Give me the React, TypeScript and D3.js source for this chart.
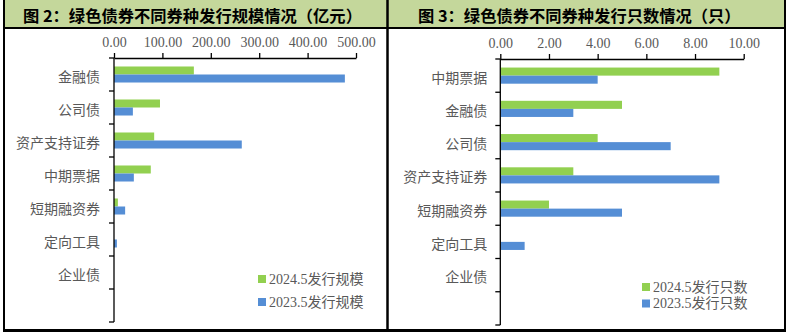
import React, { useEffect, useRef } from "react";
import * as d3 from "d3";

const leftTitle = "图 2：绿色债券不同券种发行规模情况（亿元）";
const leftCategories = ["金融债", "公司债", "资产支持证券", "中期票据", "短期融资券", "定向工具", "企业债", ""];
const leftValues2024 = [165, 95, 83, 76, 8, 0, 0];
const leftValues2023 = [477, 39, 264, 41, 23, 6, 0];
const leftTicks = [0, 100, 200, 300, 400, 500];
const leftLegend = ["2024.5发行规模", "2023.5发行规模"];

const rightTitle = "图 3：绿色债券不同券种发行只数情况（只）";
const rightCategories = ["中期票据", "金融债", "公司债", "资产支持证券", "短期融资券", "定向工具", "企业债", ""];
const rightValues2024 = [9, 5, 4, 3, 2, 0, 0];
const rightValues2023 = [4, 3, 7, 9, 5, 1, 0];
const rightTicks = [0, 2, 4, 6, 8, 10];
const rightLegend = ["2024.5发行只数", "2023.5发行只数"];

const GREEN = "#92D050";
const BLUE = "#558ED5";
const TEXT = "#595959";
const FONT = "'Liberation Serif', 'Noto Sans CJK SC', serif";
const CJK = "'Noto Sans CJK SC', sans-serif";

type PanelProps = {
  title: string;
  titleX: number;
  categories: string[];
  s1: number[];
  s2: number[];
  ticks: number[];
  legend: string[];
  x0: number;
  x1: number;
  y0: number;
  y1: number;
  labelGap: number;
  legendX: number;
  legendY: number;
  legendStep: number;
};

function Panel(p: PanelProps) {
  const axisRef = useRef<SVGGElement>(null);
  const x = d3.scaleLinear().domain([p.ticks[0], p.ticks[p.ticks.length - 1]]).range([p.x0, p.x1]);
  const y = d3.scaleBand<string>().domain(p.categories.map((c, i) => String(i))).range([p.y0, p.y1]).padding(0);
  const sub = d3.scaleBand<string>().domain(["a", "b"]).range([0, y.bandwidth()]).paddingInner(0).paddingOuter(1.06);

  useEffect(() => {
    if (!axisRef.current) return;
    const g = d3.select(axisRef.current);
    g.selectAll("*").remove();
    g.call(
      d3.axisTop(x).tickValues(p.ticks).tickFormat(d3.format(".2f")).tickSize(5).tickSizeOuter(0).tickPadding(6)
    );
    g.select(".domain").attr("stroke", "#000").attr("stroke-width", 1.3);
    g.selectAll(".tick line").attr("stroke", "#000").attr("stroke-width", 1.3);
    g.selectAll(".tick text").attr("fill", TEXT).attr("font-size", 14).attr("font-family", FONT);
  });

  const boundaries = p.categories.map((c, i) => y(String(i)) as number).concat([p.y1]);

  return (
    <g>
      <text x={p.titleX} y={22} fontSize={16.3} fontWeight="bold" fontFamily={CJK} fill="#000">
        {p.title}
      </text>
      {p.categories.map((c, i) => {
        const by = y(String(i)) as number;
        return (
          <g key={i}>
            <rect x={x(0)} y={by + (sub("a") as number)} width={x(p.s1[i] ?? 0) - x(0)} height={sub.bandwidth()} fill={GREEN} />
            <rect x={x(0)} y={by + (sub("b") as number)} width={x(p.s2[i] ?? 0) - x(0)} height={sub.bandwidth()} fill={BLUE} />
            <text
              x={x(0) - p.labelGap}
              y={by + y.bandwidth() / 2 + 1}
              textAnchor="end"
              dominantBaseline="central"
              fontSize={14}
              fontFamily={CJK}
              fill={TEXT}
            >
              {c}
            </text>
          </g>
        );
      })}
      <line x1={x(0)} x2={x(0)} y1={p.y0} y2={p.y1} stroke="#000" strokeWidth={1.3} />
      {boundaries.map((b, i) => (
        <line key={i} x1={x(0) - 5} x2={x(0)} y1={b} y2={b} stroke="#000" strokeWidth={1.3} />
      ))}
      <g ref={axisRef} transform={`translate(0,${p.y0})`} />
      {p.legend.map((l, i) => (
        <g key={l}>
          <rect x={p.legendX} y={p.legendY + i * p.legendStep - 4} width={8} height={8} fill={i === 0 ? GREEN : BLUE} />
          <text
            x={p.legendX + 11}
            y={p.legendY + i * p.legendStep}
            dominantBaseline="central"
            fontSize={14}
            fontFamily={FONT}
            fill={TEXT}
          >
            {l}
          </text>
        </g>
      ))}
    </g>
  );
}

export default function App() {
  return (
    <svg width={786} height={336} style={{ position: "absolute", left: 0, top: 0, background: "#fff" }}>
      <rect x={0} y={0} width={786} height={336} fill="#fff" />
      <rect x={4} y={0} width={781} height={28} fill="#C4D79B" />
      <line x1={3} x2={786} y1={28} y2={28} stroke="#000" strokeWidth={2} />
      <line x1={4} x2={4} y1={0} y2={332} stroke="#000" strokeWidth={2} />
      <line x1={785} x2={785} y1={0} y2={332} stroke="#000" strokeWidth={2} />
      <line x1={387.5} x2={387.5} y1={0} y2={332} stroke="#000" strokeWidth={2.5} />
      <line x1={3} x2={786} y1={330.5} y2={330.5} stroke="#000" strokeWidth={3} />
      <Panel
        title={leftTitle}
        titleX={23}
        categories={leftCategories}
        s1={leftValues2024}
        s2={leftValues2023}
        ticks={leftTicks}
        legend={leftLegend}
        x0={114}
        x1={356}
        y0={58}
        y1={322}
        labelGap={14}
        legendX={258}
        legendY={279}
        legendStep={23}
      />
      <Panel
        title={rightTitle}
        titleX={418}
        categories={rightCategories}
        s1={rightValues2024}
        s2={rightValues2023}
        ticks={rightTicks}
        legend={rightLegend}
        x0={500.3}
        x1={743.7}
        y0={59}
        y1={325}
        labelGap={13}
        legendX={642}
        legendY={287}
        legendStep={16.5}
      />
    </svg>
  );
}
